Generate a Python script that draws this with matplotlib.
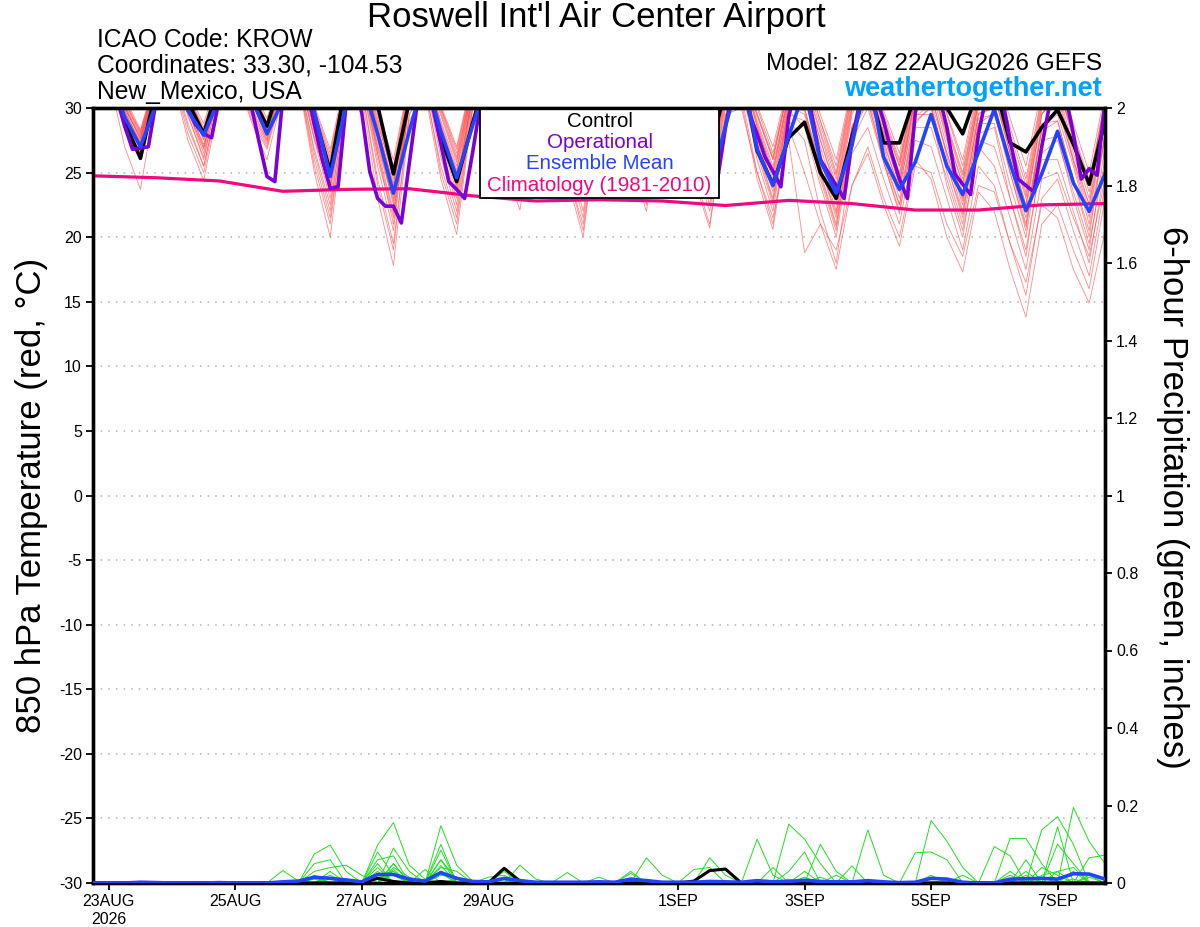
import numpy as np
import pandas as pd
import matplotlib
matplotlib.use("Agg")
import matplotlib.pyplot as plt
import matplotlib.dates as mdates
from matplotlib.patches import Rectangle

plt.rcParams["font.family"] = ["Liberation Sans", "DejaVu Sans"]
plt.rcParams["axes.unicode_minus"] = False

# time axes (GEFS 6-hourly, operational 3-hourly, climatology daily)
times = pd.date_range("2026-08-22 18:00", periods=65, freq="6h")
op_times = pd.date_range("2026-08-22 18:00", periods=129, freq="3h")
clim_times = pd.date_range("2026-08-22 18:00", periods=17, freq="24h")

tick_dates = pd.to_datetime(["2026-08-23", "2026-08-25", "2026-08-27", "2026-08-29",
                             "2026-09-01", "2026-09-03", "2026-09-05", "2026-09-07"])
tick_labels = ["23AUG\n2026", "25AUG", "27AUG", "29AUG", "1SEP", "3SEP", "5SEP", "7SEP"]

# 850 hPa temperature (C)
control_t = [31.5,
    33.0, 28.9, 26.1, 31.5, 33.5, 30.5, 28.0, 32.0, 34.0, 31.0, 28.6, 32.5, 33.5, 29.5, 25.1, 32.0,
    33.0, 30.2, 24.9, 30.5, 33.0, 27.7, 24.3, 28.8, 33.0, 29.5, 26.5, 31.5, 33.5, 30.0, 27.0, 31.5,
    33.5, 29.5, 26.8, 31.0, 33.0, 29.5, 26.5, 31.5, 33.0, 26.7, 24.1, 27.7, 28.9, 25.0, 23.0, 27.8,
    32.0, 27.3, 27.3, 31.0, 33.0, 30.0, 28.0, 31.5, 32.0, 27.3, 26.6, 28.5, 29.85, 27.2, 24.1, 29.0]

mean_t = [31.5,
    33.0, 29.3, 27.0, 30.3, 33.0, 29.8, 27.9, 30.8, 33.5, 30.8, 28.0, 30.5, 33.5, 29.7, 24.7, 30.2,
    32.2, 28.0, 23.4, 28.2, 32.5, 28.2, 24.6, 28.6, 32.5, 29.0, 26.0, 30.5, 32.5, 29.0, 25.8, 30.5,
    32.5, 29.0, 26.0, 30.5, 32.5, 28.5, 23.9, 28.6, 33.0, 26.8, 24.0, 27.8, 31.5, 25.9, 23.4, 27.1,
    33.0, 26.2, 23.7, 25.8, 29.5, 25.5, 23.3, 26.6, 29.9, 25.7, 22.05, 24.9, 28.2, 24.2, 22.0, 24.9]

oper_t = [31.5, 32.5,
    33.0, 30.8, 28.6, 26.8, 26.9, 27.0, 30.6, 32.5,
    33.0, 31.5, 29.9, 28.7, 28.0, 27.7, 30.8, 32.5,
    33.5, 32.0, 30.2, 27.4, 24.7, 24.3, 30.8, 32.0,
    33.5, 31.8, 28.7, 26.0, 23.8, 23.9, 30.2, 32.0,
    29.6, 25.1, 23.0, 22.4, 22.4, 21.1, 25.7, 30.3,
    32.0, 30.0, 27.2, 24.3, 23.7, 23.0, 26.5, 30.3,
    32.5, 31.0, 29.0, 27.0, 26.0, 26.0, 30.0, 32.5,
    33.0, 31.5, 29.5, 27.5, 26.5, 26.5, 30.5, 32.8,
    33.0, 31.5, 29.0, 27.0, 26.0, 26.2, 30.2, 32.5,
    32.8, 31.0, 28.5, 26.0, 24.5, 24.5, 28.5, 32.0,
    32.5, 29.6, 28.0, 26.2, 25.1, 23.9, 29.3, 32.0,
    32.5, 29.2, 26.0, 25.0, 24.0, 23.0, 27.5, 30.5,
    32.5, 31.0, 29.0, 26.5, 24.5, 23.0, 29.6, 32.5,
    33.0, 31.0, 28.5, 24.9, 24.1, 23.3, 28.0, 31.0,
    33.0, 30.8, 27.5, 24.5, 24.0, 23.5, 27.0, 30.3,
    33.0, 31.0, 28.0, 24.5, 25.3, 24.8, 30.5]

clim_t = [24.75, 24.6, 24.35, 23.55, 23.7, 23.75, 23.2, 22.8, 22.9,
          22.8, 22.45, 22.85, 22.6, 22.1, 22.1, 22.5, 22.6]

members_t = [
    [32.0,
     33.5, 29.8, 27.2, 31.8, 33.8, 30.4, 27.5, 32.0, 34.0, 31.0, 28.0, 32.5, 33.0, 28.5, 24.0, 31.5,
     32.8, 27.6, 22.5, 31.0, 33.0, 28.2, 24.5, 31.5, 33.2, 29.0, 26.0, 31.8, 33.5, 28.8, 25.5, 31.5,
     33.0, 29.5, 26.5, 31.8, 33.2, 29.0, 25.0, 31.5, 33.0, 28.0, 24.5, 30.5, 31.5, 27.0, 23.0, 30.0,
     32.5, 28.0, 24.0, 31.0, 32.0, 27.5, 23.5, 30.5, 31.5, 26.5, 22.5, 29.5, 31.0, 26.0, 22.0, 29.0],
    [31.5,
     33.0, 29.0, 26.8, 31.5, 33.2, 29.5, 26.0, 31.6, 33.5, 30.2, 27.5, 32.0, 32.5, 26.5, 22.0, 30.8,
     32.0, 25.5, 20.5, 30.5, 32.5, 27.0, 23.0, 31.0, 32.8, 28.0, 24.5, 31.2, 32.5, 26.5, 22.0, 30.5,
     32.8, 28.5, 25.0, 31.0, 32.5, 27.5, 23.5, 30.8, 32.0, 26.0, 22.0, 29.5, 29.0, 24.5, 20.5, 28.0,
     30.5, 26.0, 22.5, 29.0, 30.0, 25.0, 21.0, 28.0, 28.5, 23.0, 18.5, 26.5, 27.5, 23.5, 19.5, 26.0],
    [32.5,
     34.0, 30.5, 28.0, 32.2, 34.2, 31.0, 28.5, 32.5, 34.5, 31.5, 28.8, 33.0, 33.8, 30.0, 26.5, 32.2,
     33.5, 29.5, 25.5, 32.0, 33.6, 30.0, 26.5, 32.2, 33.8, 30.5, 27.5, 32.5, 34.0, 30.2, 27.0, 32.2,
     33.8, 30.8, 28.0, 32.5, 33.5, 30.5, 27.0, 32.0, 33.2, 30.0, 26.5, 31.8, 32.8, 29.0, 25.0, 31.5,
     33.0, 29.5, 26.0, 31.8, 33.2, 29.5, 25.5, 31.5, 32.5, 28.5, 24.5, 31.0, 32.2, 28.0, 24.0, 30.8],
    [31.0,
     32.5, 27.0, 23.7, 30.8, 32.8, 28.5, 25.5, 31.0, 33.0, 29.5, 27.0, 31.5, 32.0, 25.0, 20.0, 30.0,
     31.5, 24.5, 19.5, 29.5, 31.5, 25.5, 21.5, 30.0, 32.0, 26.5, 23.0, 30.5, 31.8, 24.5, 20.0, 29.8,
     32.0, 26.0, 22.0, 30.2, 31.8, 25.0, 21.0, 29.5, 30.5, 24.5, 20.6, 28.5, 25.0, 21.0, 17.5, 24.0,
     27.0, 23.0, 20.0, 26.0, 24.5, 20.0, 17.3, 23.5, 22.0, 17.5, 13.8, 21.0, 22.5, 19.0, 16.0, 23.0],
    [32.2,
     33.8, 30.2, 27.5, 32.0, 34.0, 30.6, 27.8, 32.2, 34.2, 31.2, 28.2, 32.8, 33.5, 29.0, 25.0, 31.8,
     33.0, 28.0, 23.5, 31.5, 33.2, 29.0, 25.5, 31.8, 33.5, 29.8, 26.8, 32.0, 33.8, 29.5, 26.0, 31.8,
     33.5, 30.0, 27.0, 32.0, 33.2, 29.5, 26.0, 31.8, 33.0, 29.0, 25.5, 31.2, 32.0, 28.0, 24.0, 30.8,
     32.5, 28.5, 25.0, 31.2, 32.2, 28.0, 24.0, 30.5, 31.0, 26.5, 22.0, 29.5, 31.5, 27.0, 23.0, 30.0],
    [31.2,
     32.8, 29.0, 26.5, 31.2, 32.5, 27.5, 24.4, 30.5, 32.8, 29.0, 26.0, 31.0, 32.2, 25.5, 21.0, 30.2,
     31.0, 23.0, 17.8, 29.0, 31.2, 24.5, 20.2, 29.8, 31.8, 25.5, 22.1, 30.0, 32.0, 25.0, 21.0, 29.8,
     32.2, 26.5, 23.0, 30.5, 31.5, 24.5, 20.7, 29.5, 30.0, 25.0, 21.5, 27.5, 18.8, 21.0, 19.0, 24.0,
     26.5, 22.5, 19.3, 25.5, 25.0, 21.0, 18.5, 24.0, 23.5, 19.5, 16.5, 22.5, 21.5, 17.5, 14.9, 20.5],
    [32.3,
     33.6, 30.0, 27.8, 32.1, 34.0, 30.8, 28.0, 32.4, 34.3, 31.3, 28.5, 32.8, 33.6, 29.5, 25.5, 32.0,
     33.2, 29.0, 24.5, 31.8, 33.4, 29.6, 26.0, 32.0, 33.6, 30.2, 27.0, 32.2, 33.8, 30.0, 26.5, 32.0,
     33.6, 30.4, 27.5, 32.3, 33.4, 30.0, 26.5, 31.9, 33.0, 28.5, 25.0, 31.0, 31.5, 27.5, 23.5, 30.2,
     32.0, 28.0, 24.5, 30.8, 31.0, 26.5, 22.5, 29.5, 30.0, 25.0, 20.5, 28.5, 29.5, 25.5, 21.0, 28.0],
    [31.8,
     33.2, 29.4, 27.0, 31.6, 33.4, 29.8, 26.5, 31.8, 33.6, 30.6, 27.8, 32.2, 32.8, 27.5, 23.0, 31.0,
     32.4, 26.5, 21.0, 30.6, 32.6, 27.0, 22.5, 30.8, 33.0, 28.5, 25.0, 31.4, 33.0, 27.5, 23.5, 31.0,
     32.8, 28.0, 24.0, 31.2, 33.0, 28.0, 24.0, 31.0, 32.5, 27.0, 23.0, 30.0, 30.0, 25.5, 21.5, 28.5,
     31.0, 27.0, 23.0, 29.5, 29.5, 24.0, 20.0, 27.5, 27.0, 23.0, 19.0, 26.0, 26.0, 22.0, 18.0, 25.5],
    [32.8,
     34.2, 30.8, 28.3, 32.5, 34.5, 31.2, 28.8, 32.8, 34.6, 31.8, 29.2, 33.2, 34.0, 30.2, 26.8, 32.5,
     33.8, 29.8, 26.0, 32.2, 33.8, 30.2, 27.0, 32.4, 34.0, 30.8, 28.0, 32.6, 34.2, 30.8, 28.0, 32.6,
     34.0, 31.0, 28.3, 32.8, 33.8, 30.6, 27.5, 32.2, 33.6, 30.2, 27.0, 32.0, 33.2, 29.5, 26.0, 31.8,
     33.4, 29.8, 26.5, 32.0, 33.2, 29.6, 26.0, 31.8, 33.0, 29.2, 25.5, 31.5, 32.8, 28.8, 25.0, 31.2],
    [31.0,
     32.6, 28.5, 26.0, 31.0, 32.8, 28.0, 25.0, 30.8, 33.0, 29.2, 26.8, 31.2, 32.2, 26.0, 21.5, 30.2,
     31.5, 24.0, 19.0, 29.5, 31.8, 25.0, 21.0, 30.0, 32.2, 27.0, 23.5, 30.6, 32.0, 25.0, 20.5, 29.8,
     32.4, 26.5, 22.5, 30.4, 32.0, 26.0, 22.0, 30.0, 31.0, 25.0, 21.0, 29.0, 27.5, 22.0, 18.0, 26.5,
     28.5, 24.5, 21.0, 27.5, 27.0, 23.0, 19.0, 25.5, 24.0, 19.5, 15.5, 23.0, 24.5, 20.5, 17.0, 24.0],
    [32.0,
     33.4, 29.6, 27.4, 31.8, 33.6, 30.0, 27.2, 32.0, 33.8, 31.0, 28.3, 32.4, 33.0, 28.4, 24.5, 31.4,
     32.6, 27.2, 23.0, 31.0, 32.8, 27.6, 24.0, 31.2, 33.0, 29.0, 25.5, 31.6, 33.2, 28.4, 24.5, 31.2,
     33.0, 29.0, 25.5, 31.6, 33.0, 29.0, 25.5, 31.4, 32.6, 27.8, 24.0, 30.8, 31.0, 26.5, 22.5, 29.8,
     31.8, 27.5, 23.5, 30.4, 31.2, 26.2, 22.0, 29.6, 30.0, 25.5, 21.0, 28.8, 29.0, 24.5, 20.0, 28.0],
    [32.1,
     33.5, 30.0, 27.6, 32.0, 33.9, 30.6, 27.9, 32.2, 34.1, 31.2, 28.6, 32.6, 33.4, 29.4, 25.8, 31.8,
     33.0, 28.8, 24.8, 31.6, 33.0, 28.6, 25.0, 31.6, 33.4, 29.6, 26.5, 31.9, 33.4, 29.0, 25.0, 31.6,
     33.2, 29.6, 26.0, 31.8, 33.2, 29.8, 26.0, 31.8, 33.2, 29.4, 26.0, 31.6, 32.2, 28.2, 24.5, 31.0,
     32.8, 29.0, 25.5, 31.4, 32.4, 28.5, 24.5, 30.8, 31.8, 27.5, 23.5, 30.5, 31.2, 26.5, 22.5, 29.8],
    [31.4,
     32.8, 28.6, 26.3, 31.2, 33.0, 28.8, 25.5, 31.0, 33.2, 29.8, 27.2, 31.6, 32.4, 26.8, 22.5, 30.5,
     32.0, 26.0, 21.5, 30.2, 32.2, 26.2, 22.0, 30.4, 32.6, 27.5, 24.0, 30.8, 32.4, 26.0, 21.5, 30.2,
     32.6, 27.2, 23.5, 30.8, 32.2, 26.6, 22.5, 30.4, 31.5, 26.5, 22.5, 29.8, 28.5, 24.0, 20.0, 27.5,
     30.0, 25.8, 22.0, 28.5, 28.5, 24.5, 20.5, 27.0, 25.5, 21.5, 17.5, 24.5, 25.0, 21.5, 18.5, 24.5],
    [32.6,
     34.0, 30.6, 28.2, 32.4, 34.3, 31.0, 28.3, 32.6, 34.5, 31.6, 28.9, 33.0, 33.8, 29.8, 26.0, 32.2,
     33.4, 29.2, 25.0, 32.0, 33.6, 30.0, 26.8, 32.2, 33.8, 30.6, 27.8, 32.5, 34.0, 30.6, 27.5, 32.4,
     33.8, 30.6, 27.8, 32.5, 33.6, 30.6, 27.8, 32.2, 33.2, 29.5, 26.0, 31.8, 32.8, 29.0, 25.5, 31.5,
     32.8, 29.0, 25.5, 31.5, 32.6, 28.8, 25.0, 31.2, 32.2, 28.0, 24.0, 30.8, 32.0, 27.5, 23.5, 30.6],
    [31.9,
     33.3, 29.4, 27.1, 31.7, 33.5, 29.8, 26.8, 31.8, 33.7, 30.6, 27.6, 32.2, 32.9, 27.8, 23.5, 31.0,
     32.5, 26.8, 22.0, 30.8, 32.6, 27.4, 23.5, 31.0, 33.0, 28.6, 25.2, 31.5, 33.1, 28.0, 24.0, 31.0,
     32.9, 28.2, 24.5, 31.2, 32.8, 28.4, 24.5, 31.2, 32.4, 27.2, 23.5, 30.2, 30.0, 25.0, 21.0, 28.6,
     30.8, 26.4, 22.5, 29.4, 30.2, 25.6, 21.5, 28.8, 28.8, 24.0, 20.0, 27.5, 27.8, 23.0, 19.0, 27.0],
    [32.3,
     33.7, 30.2, 27.9, 32.1, 33.8, 30.2, 27.0, 32.0, 34.0, 31.0, 28.1, 32.5, 33.3, 29.0, 24.8, 31.6,
     33.1, 28.6, 24.0, 31.4, 33.3, 29.4, 25.8, 31.8, 33.4, 29.6, 26.2, 31.9, 33.6, 29.4, 25.8, 31.7,
     33.4, 29.8, 26.8, 32.0, 33.4, 29.4, 25.8, 31.7, 33.0, 28.6, 24.8, 31.0, 31.0, 26.0, 22.0, 29.5,
     32.0, 28.2, 24.8, 30.8, 31.5, 27.0, 23.0, 30.0, 31.0, 26.5, 22.5, 29.6, 30.5, 25.8, 21.5, 29.0],
    [31.6,
     33.0, 28.8, 26.6, 31.4, 33.2, 29.4, 26.2, 31.4, 33.4, 30.0, 27.4, 31.8, 32.6, 27.6, 23.8, 30.8,
     32.3, 27.0, 22.8, 30.6, 32.5, 27.8, 24.2, 31.0, 32.9, 29.0, 25.8, 31.4, 32.6, 27.0, 23.0, 30.6,
     32.8, 28.6, 25.2, 31.2, 32.4, 27.0, 23.0, 30.6, 32.0, 27.4, 23.8, 30.2, 29.5, 25.5, 21.8, 28.5,
     31.0, 27.2, 23.8, 29.8, 30.5, 26.5, 22.8, 29.2, 29.5, 25.5, 21.5, 28.2, 29.0, 24.5, 20.5, 27.8],
    [32.0,
     33.4, 29.8, 27.3, 31.9, 33.7, 30.4, 27.6, 32.1, 34.0, 31.2, 28.4, 32.6, 33.2, 29.0, 25.2, 31.6,
     32.9, 28.0, 23.8, 31.3, 33.1, 28.8, 25.2, 31.6, 33.4, 29.8, 26.4, 31.9, 33.6, 29.6, 26.2, 31.9,
     33.3, 29.6, 26.2, 31.8, 33.4, 29.8, 26.4, 31.8, 33.0, 28.8, 25.2, 31.2, 31.8, 27.5, 23.8, 30.4,
     32.0, 27.8, 24.2, 30.6, 32.0, 27.8, 24.2, 30.4, 31.2, 27.0, 23.0, 30.0, 31.8, 28.0, 24.5, 30.2],
    [32.2,
     33.6, 30.0, 27.7, 32.0, 33.6, 29.8, 26.9, 31.8, 33.9, 30.8, 27.9, 32.3, 33.1, 28.2, 24.2, 31.4,
     32.4, 26.4, 21.8, 30.6, 32.8, 27.8, 23.8, 31.2, 33.2, 29.0, 25.6, 31.6, 33.4, 28.6, 24.8, 31.4,
     33.2, 29.2, 25.8, 31.7, 33.0, 28.6, 24.8, 31.2, 32.2, 26.8, 22.8, 30.0, 29.8, 24.8, 20.8, 28.4,
     30.5, 25.8, 21.8, 28.8, 30.2, 25.6, 21.8, 28.8, 29.6, 25.0, 20.8, 28.4, 30.0, 26.0, 22.5, 28.8],
    [32.4,
     33.8, 30.4, 28.1, 32.3, 34.1, 30.8, 28.2, 32.5, 34.3, 31.4, 28.6, 32.9, 33.6, 29.8, 26.2, 32.1,
     33.2, 28.4, 24.2, 31.6, 33.4, 29.8, 26.2, 32.0, 33.7, 30.2, 27.2, 32.2, 33.9, 30.4, 27.2, 32.3,
     33.6, 30.2, 27.2, 32.2, 33.5, 30.0, 26.8, 32.0, 33.2, 29.6, 26.2, 31.6, 32.4, 28.6, 24.8, 31.2,
     32.8, 29.2, 25.8, 31.5, 32.4, 28.6, 24.8, 31.0, 31.5, 27.4, 23.2, 30.2, 31.8, 27.8, 24.0, 30.4],
]

# 6-hour precipitation (inches)
control_p = [0, 0, 0, 0, 0, 0, 0, 0, 0, 0, 0, 0, 0,
             0, 0, 0, 0, 0, .012, .004, 0, 0, .004, 0, 0, 0,
             .038, .005, 0, 0, 0, 0, 0, 0, 0, 0, 0, 0, .005,
             .032, .036, 0, 0, 0, 0, 0, 0, 0, 0, 0, 0, 0,
             0, 0, 0, 0, 0, 0, 0, 0, 0, 0, 0, 0, 0]

mean_p = [0, 0, 0, .002, .001, 0, 0, 0, .001, 0, 0, 0, .003,
          .005, .015, .012, .008, .003, .022, .022, .01, .005, .027, .012, .004, .003,
          .012, .006, .002, .002, .002, .002, .003, .002, .01, .006, .002, .002, .002,
          .004, .003, .002, .006, .003, .004, .007, .004, .003, .003, .006, .003, .001,
          .002, .012, .01, .002, 0, 0, .01, .011, .012, .01, .024, .023, .01]

members_p = [
    [0, 0, 0, .003, 0, 0, 0, 0, 0, 0, 0, 0, 0,
     0, .075, .098, .03, 0, 0, .05, 0, 0, .06, .01, 0, 0,
     0, 0, 0, 0, 0, 0, 0, 0, 0, .065, .02, 0, 0,
     0, 0, 0, 0, 0, .152, .113, .05, 0, 0, 0, 0, 0,
     0, 0, 0, 0, 0, 0, 0, 0, 0, .1, .05, 0, 0],
    [0, 0, 0, 0, 0, 0, 0, 0, 0, 0, 0, 0, .032,
     .005, 0, 0, 0, 0, .098, .156, .046, .01, 0, 0, 0, 0,
     0, 0, 0, 0, 0, 0, 0, 0, 0, 0, 0, 0, 0,
     0, 0, 0, .113, .02, 0, 0, 0, 0, 0, 0, 0, 0,
     0, .161, .108, .04, 0, 0, 0, 0, 0, 0, .195, .107, .05],
    [0, 0, 0, 0, 0, 0, 0, 0, 0, 0, 0, 0, 0,
     0, .05, .06, 0, 0, .08, .02, 0, 0, .148, .046, .005, 0,
     0, 0, 0, 0, 0, 0, 0, 0, 0, 0, 0, 0, 0,
     0, 0, 0, 0, 0, 0, 0, 0, 0, 0, .137, .02, 0,
     0, 0, 0, 0, 0, 0, 0, 0, .137, .171, .1, 0, 0],
    [0, 0, 0, 0, 0, 0, 0, 0, 0, 0, 0, 0, 0,
     0, .03, .04, .046, .02, 0, .09, .03, 0, .1, 0, 0, 0,
     0, .046, .01, 0, 0, 0, 0, 0, 0, 0, 0, 0, 0,
     0, 0, 0, 0, 0, 0, 0, .1, .03, 0, 0, 0, 0,
     0, 0, 0, 0, 0, 0, .115, .115, .05, 0, 0, 0, 0],
    [0, 0, 0, 0, 0, 0, 0, 0, 0, 0, 0, 0, 0,
     0, 0, 0, 0, 0, .06, .07, 0, 0, .085, 0, 0, 0,
     .03, 0, 0, 0, 0, 0, 0, 0, .03, 0, 0, 0, 0,
     .065, .02, 0, 0, 0, 0, 0, 0, 0, 0, 0, 0, 0,
     .078, .08, .06, 0, 0, .094, .07, 0, 0, 0, 0, 0, 0],
    [0, 0, 0, 0, 0, 0, 0, 0, .004, 0, 0, 0, 0,
     0, .02, 0, 0, 0, .05, 0, 0, 0, .04, .03, 0, 0,
     0, 0, 0, 0, .027, 0, 0, 0, 0, 0, 0, 0, .035,
     .04, 0, 0, 0, 0, .03, .08, 0, 0, 0, 0, 0, 0,
     0, 0, 0, 0, 0, 0, 0, .06, 0, .145, 0, .065, .072],
    [0, 0, 0, 0, 0, 0, 0, 0, 0, 0, 0, 0, 0,
     0, 0, .03, 0, 0, 0, .05, 0, .035, 0, 0, 0, .015,
     .02, 0, 0, 0, 0, 0, .015, 0, 0, 0, 0, 0, 0,
     0, 0, 0, 0, .04, 0, 0, 0, 0, .044, 0, 0, 0,
     0, 0, 0, .02, 0, 0, 0, 0, 0, 0, .03, 0, 0],
    [0, 0, 0, 0, 0, 0, 0, 0, 0, 0, 0, 0, 0,
     0, 0, 0, 0, 0, .03, 0, 0, 0, .06, 0, 0, 0,
     0, 0, 0, 0, 0, 0, 0, 0, .025, 0, 0, 0, 0,
     0, 0, 0, 0, 0, 0, 0, 0, .02, 0, 0, 0, 0,
     0, 0, 0, 0, 0, 0, .02, 0, .04, .02, 0, 0, 0],
    [0, 0, 0, 0, 0, 0, 0, 0, 0, 0, 0, 0, 0,
     0, .01, 0, 0, 0, .02, .03, 0, 0, 0, .01, 0, 0,
     0, 0, 0, 0, 0, 0, 0, 0, 0, 0, 0, 0, 0,
     0, 0, 0, 0, 0, 0, 0, 0, 0, 0, 0, 0, 0,
     0, .02, 0, 0, 0, 0, 0, .03, 0, 0, 0, .02, 0],
    [0, 0, 0, 0, 0, 0, 0, 0, 0, 0, 0, 0, 0,
     0, 0, .02, 0, 0, 0, .035, 0, 0, .025, 0, 0, 0,
     0, 0, 0, 0, 0, 0, 0, 0, 0, 0, 0, 0, 0,
     0, 0, 0, 0, 0, 0, .03, 0, 0, 0, 0, 0, 0,
     0, 0, 0, 0, 0, 0, 0, 0, 0, .03, .04, 0, 0],
    [0, 0, 0, 0, 0, 0, 0, 0, 0, 0, 0, .002, 0,
     0, 0, 0, 0, 0, .015, .02, 0, 0, 0, 0, 0, 0,
     .01, 0, 0, 0, 0, 0, 0, 0, 0, .01, 0, 0, 0,
     0, 0, 0, 0, 0, 0, 0, 0, 0, 0, 0, 0, 0,
     0, 0, 0, 0, 0, 0, 0, 0, .015, 0, 0, 0, 0],
    [0, 0, 0, 0, 0, 0, 0, 0, 0, 0, 0, 0, 0,
     0, .015, 0, 0, 0, 0, 0, 0, 0, .02, .015, 0, 0,
     0, 0, 0, 0, 0, 0, 0, 0, 0, 0, 0, 0, 0,
     0, 0, 0, 0, 0, .01, 0, 0, 0, 0, 0, 0, 0,
     0, 0, 0, 0, 0, 0, .03, 0, 0, 0, 0, 0, 0],
    [0, 0, 0, 0, 0, 0, 0, 0, 0, 0, 0, 0, 0,
     0, 0, 0, 0, 0, 0, .04, .015, 0, 0, 0, 0, 0,
     0, .01, 0, 0, 0, 0, 0, 0, 0, 0, 0, 0, 0,
     0, 0, 0, 0, 0, 0, .015, 0, 0, 0, 0, 0, 0,
     0, 0, .01, 0, 0, 0, 0, 0, 0, 0, .01, 0, 0],
    [0, 0, 0, 0, 0, 0, 0, 0, 0, 0, 0, 0, 0,
     0, 0, 0, 0, 0, .04, 0, 0, 0, .03, 0, 0, 0,
     0, 0, 0, 0, 0, 0, 0, 0, .012, 0, 0, 0, 0,
     0, 0, 0, 0, 0, 0, 0, 0, 0, 0, 0, 0, 0,
     0, 0, 0, 0, 0, 0, 0, .02, 0, 0, 0, .015, 0],
    [0, 0, 0, 0, 0, 0, 0, 0, 0, 0, 0, 0, 0,
     0, 0, .01, 0, 0, 0, .025, 0, 0, .045, 0, 0, 0,
     .008, 0, 0, 0, 0, 0, 0, 0, 0, 0, 0, 0, 0,
     0, 0, 0, 0, 0, 0, 0, .015, 0, 0, 0, 0, 0,
     0, 0, 0, 0, 0, 0, 0, 0, .02, .03, 0, 0, 0],
]

W, H = 1200, 927
fig = plt.figure(figsize=(W / 100, H / 100), dpi=100)
ax = fig.add_axes([93 / W, 44 / H, 1012 / W, 775 / H])

# temperature
for row in members_t:
    ax.plot(times, row, color="#ff4a4a", lw=0.6, alpha=0.65, zorder=2)
ax.plot(clim_times, clim_t, color="#f0087f", lw=2.3, zorder=3)
ax.plot(times, control_t, color="black", lw=2.6, zorder=4)
ax.plot(op_times, oper_t, color="#7b00d8", lw=2.6, zorder=5)
ax.plot(times, mean_t, color="#2244ff", lw=2.6, zorder=6)

ax.set_xlim(times[0], times[-1])
ax.set_ylim(-30, 30)
ax.set_yticks(np.arange(-30, 31, 5))
ax.set_xticks(mdates.date2num(tick_dates))
ax.set_xticklabels(tick_labels)
for y in range(-25, 30, 5):
    ax.axhline(y, color="#b0b0b0", lw=1.1, ls=(0, (1, 4)), zorder=1)
ax.tick_params(axis="both", direction="out", length=5, width=1.3, labelsize=11.5, pad=3)
for s in ax.spines.values():
    s.set_linewidth(2.4)

# legend box
ax.add_patch(Rectangle((0.3824, 0.8839), 0.2362, 0.1161, transform=ax.transAxes,
                       facecolor="white", edgecolor="black", lw=1.3, zorder=10))
leg = [("Control", "black", 0.9832), ("Operational", "#7b00d8", 0.9561),
       ("Ensemble Mean", "#2244ff", 0.929), ("Climatology (1981-2010)", "#f0087f", 0.9006)]
for txt, col, yy in leg:
    ax.text(0.5005, yy, txt, color=col, fontsize=14.8, ha="center", va="center",
            transform=ax.transAxes, zorder=11)

# precipitation
ax2 = ax.twinx()
for row in members_p:
    ax2.plot(times, row, color="#22dd22", lw=0.7, zorder=2)
ax2.plot(times, control_p, color="black", lw=2.2, zorder=3)
ax2.plot(times, mean_p, color="#2244ff", lw=2.6, zorder=4)
ax2.set_ylim(0, 2)
ax2.set_xlim(times[0], times[-1])
ax2.set_yticks(np.arange(0, 2.01, 0.2))
ax2.set_yticklabels([f"{v:g}" for v in np.round(np.arange(0, 2.01, 0.2), 1)])
ax2.tick_params(axis="y", direction="out", length=5, width=1.3, labelsize=11.5, pad=3)
for s in ax2.spines.values():
    s.set_linewidth(2.4)

# header text
fig.text(596 / W, 1 - 18 / H, "Roswell Int'l Air Center Airport", fontsize=25,
         ha="center", va="center")
fig.text(97 / W, 1 - 40 / H, "ICAO Code: KROW", fontsize=17.7, ha="left", va="center")
fig.text(97 / W, 1 - 66 / H, "Coordinates: 33.30, -104.53", fontsize=17.7, ha="left", va="center")
fig.text(97 / W, 1 - 92 / H, "New_Mexico, USA", fontsize=17.7, ha="left", va="center")
fig.text(1102 / W, 1 - 64 / H, "Model: 18Z 22AUG2026 GEFS", fontsize=17.6, ha="right", va="center")
fig.text(1102 / W, 1 - 89 / H, "weathertogether.net", fontsize=19.5, fontweight="bold",
         color="#00a2ff", ha="right", va="center")

fig.text(32 / W, 1 - 495 / H, "850 hPa Temperature (red, °C)", fontsize=25, rotation=90,
         ha="center", va="center")
fig.text(1172 / W, 1 - 497 / H, "6-hour Precipitation (green, inches)", fontsize=25,
         rotation=270, ha="center", va="center")

fig.savefig("out.png", dpi=100)
